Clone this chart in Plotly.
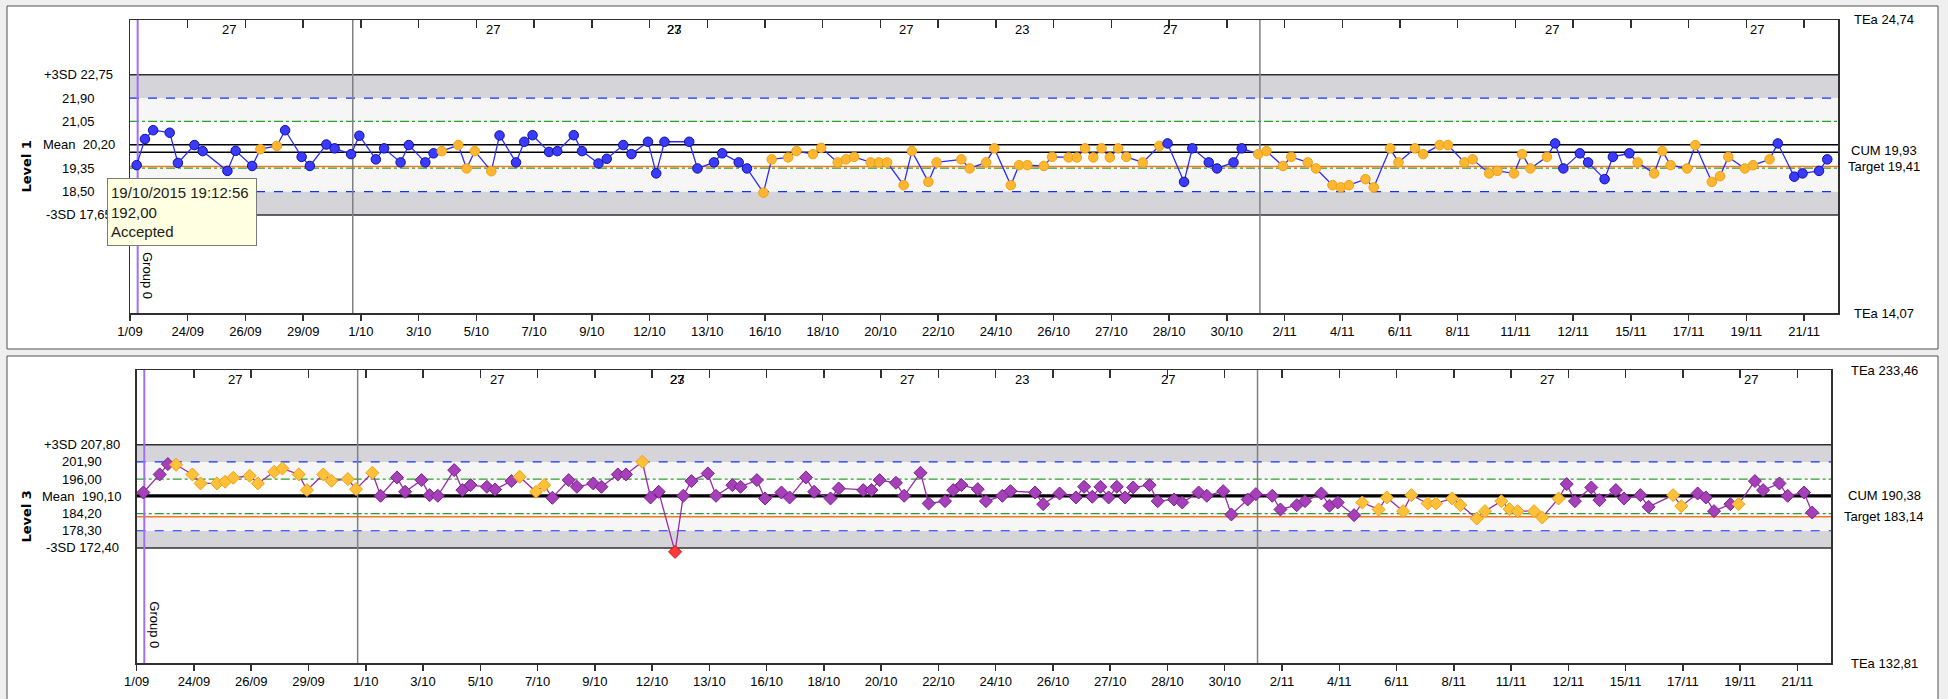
import plotly.graph_objects as go

W, H = 1948, 699
ML = 20  # left margin (keeps plotly from auto-pushing)

# ---------------- data ----------------
tick_labels = ["1/09", "24/09", "26/09", "29/09", "1/10", "3/10", "5/10", "7/10", "9/10", "12/10",
               "13/10", "16/10", "18/10", "20/10", "22/10", "24/10", "26/10", "27/10", "28/10", "30/10",
               "2/11", "4/11", "6/11", "8/11", "11/11", "12/11", "15/11", "17/11", "19/11", "21/11"]

# Level 1 (run index, value)
top_idx = [0, 1, 2, 4, 5, 7, 8, 11, 12, 14, 15, 17, 18, 20, 21, 23, 24, 26, 27, 29, 30, 32, 33, 35, 36,
           37, 39, 40, 41, 43, 44, 46, 47, 48, 50, 51, 53, 54, 56, 57, 59, 60, 62, 63, 64, 67, 68, 70, 71,
           73, 74, 76, 77, 79, 80, 82, 83, 85, 86, 87, 89, 90, 91, 93, 94, 96, 97, 100, 101, 103, 104,
           106, 107, 108, 110, 111, 113, 114, 115, 116, 117, 118, 119, 120, 122, 124, 125, 127, 128,
           130, 131, 133, 134, 136, 137, 139, 140, 142, 143, 145, 146, 147, 149, 150, 152, 153, 155,
           156, 158, 159, 161, 162, 164, 165, 167, 168, 169, 171, 172, 173, 175, 176, 178, 179, 181,
           182, 184, 185, 186, 188, 189, 191, 192, 193, 195, 196, 198, 199, 201, 202, 204, 205]
top_val = [19.46, 20.41, 20.73, 20.64, 19.54, 20.19, 19.97, 19.25, 19.98, 19.43, 20.04, 20.16, 20.73,
           19.76, 19.43, 20.21, 20.07, 19.86, 20.53, 19.67, 20.07, 19.56, 20.19, 19.56, 19.89,
           19.97, 20.19, 19.34, 19.97, 19.24, 20.54, 19.56, 20.31, 20.55, 19.94, 19.97, 20.55, 19.97,
           19.52, 19.69, 20.19, 19.86, 20.31, 19.16, 20.31, 20.31, 19.34, 19.56, 19.89, 19.56, 19.34,
           18.46, 19.67, 19.74, 19.97, 19.86, 20.09, 19.56, 19.67, 19.76, 19.56, 19.56, 19.56, 18.73,
           19.97, 18.85, 19.56, 19.67, 19.34, 19.56, 20.07, 18.73, 19.46, 19.46, 19.43, 19.76, 19.74,
           19.74, 20.07, 19.74, 20.07, 19.74, 20.07, 19.76, 19.56, 20.16, 20.25, 18.85, 20.07, 19.56,
           19.34, 19.56, 20.07, 19.86, 19.97, 19.43, 19.76, 19.56, 19.34, 18.73, 18.65, 18.73, 18.95,
           18.65, 20.07, 19.56, 20.07, 19.86, 20.19, 20.19, 19.56, 19.67, 19.16, 19.25, 19.16, 19.86,
           19.34, 19.76, 20.25, 19.34, 19.89, 19.56, 18.95, 19.76, 19.89, 19.56, 19.16, 19.97, 19.46,
           19.34, 20.19, 18.85, 19.06, 19.76, 19.34, 19.46, 19.67, 20.25, 19.04, 19.16, 19.25, 19.67]
# index ranges of Level 1 runs drawn in orange (warning)
top_warn_ranges = [(15, 17), (37, 43), (76, 124), (136, 171), (182, 198)]

# Level 3 (run index, value)
bot_idx = [0, 2, 3, 4, 6, 7, 9, 10, 11, 13, 14, 16, 17, 19, 20, 22, 23, 25, 26, 28, 29, 31, 32, 34, 35,
           36, 38, 39, 40, 42, 43, 45, 46, 48, 49, 50, 52, 53, 55, 56, 58, 59, 61, 62, 63, 65, 66, 67,
           69, 70, 72, 73, 75, 76, 78, 79, 81, 82, 84, 85, 88, 89, 90, 92, 93, 95, 96, 98, 99, 100,
           102, 103, 105, 106, 109, 110, 112, 114, 115, 116, 117, 118, 119, 120, 121, 123, 124, 126,
           127, 129, 130, 132, 133, 135, 136, 138, 139, 141, 142, 144, 145, 146, 148, 149, 151, 152,
           154, 155, 157, 158, 160, 161, 163, 164, 166, 167, 168, 170, 171, 173, 174, 175, 177, 178,
           180, 181, 183, 184, 187, 188, 190, 191, 192, 194, 195, 197, 198, 200, 201, 203, 204]
bot_val = [191.43, 197.62, 201.17, 200.94, 197.62, 194.53, 194.53, 195.10, 196.47, 197.16, 194.53,
           198.53, 199.68, 197.62, 192.24, 197.62, 195.44, 196.02, 192.58, 198.19, 190.29, 196.59,
           191.66, 195.67, 190.52, 190.29, 199.11, 192.24, 193.96, 193.38, 192.46, 195.33, 196.82,
           191.66, 193.96, 189.60, 195.67, 193.38, 194.53, 193.38, 197.62, 197.62, 201.97, 189.72,
           191.66, 171.05, 190.29, 195.33, 197.96, 190.29, 193.96, 193.38, 195.67, 189.38, 191.43,
           189.72, 196.59, 191.66, 189.38, 192.81, 192.24, 192.24, 195.67, 194.75, 190.29, 198.19,
           187.66, 188.46, 192.24, 193.96, 192.58, 188.46, 190.29, 191.89, 191.43, 187.43, 191.09,
           189.72, 193.38, 189.95, 193.38, 189.72, 193.38, 189.72, 193.15, 193.96, 188.46, 189.03,
           188.00, 191.43, 190.29, 191.89, 183.88, 189.03, 190.86, 190.29, 185.60, 187.08, 188.46,
           191.09, 186.90, 188.00, 183.65, 188.00, 185.60, 189.72, 185.02, 190.52, 187.66, 187.66,
           189.38, 187.08, 182.50, 185.02, 188.46, 185.71, 185.02, 185.02, 182.86, 189.38, 194.30,
           188.46, 193.15, 188.80, 192.24, 189.38, 190.52, 186.51, 190.52, 186.74, 191.09, 189.72,
           185.02, 187.43, 187.43, 195.33, 192.24, 194.53, 190.29, 191.43, 184.56]
bot_warn_ranges = [(4, 28), (46, 49), (61, 61), (149, 173), (187, 188), (195, 195)]
bot_reject = [65]

lot_pos = [11.2, 43.2, 65.2, 65.2, 93.3, 107.4, 125.3, 171.6, 196.5]
lot_txt = ["27", "27", "27", "23", "27", "23", "27", "27", "27"]

# control limits
L1 = dict(mean=20.20, sd=0.85, cum=19.93, target=19.41, tea_hi=24.74, tea_lo=14.07)
L3 = dict(mean=190.10, sd=5.90, cum=190.38, target=183.14, tea_hi=233.46, tea_lo=132.81)

month_breaks = [26.2, 136.2]
group_line = 0.12
XR = [-0.81, 206.3]
tickvals = [7 * k - 0.81 for k in range(len(tick_labels))]

FONT = "Liberation Sans, Arial, sans-serif"


def in_ranges(i, ranges):
    return any(a <= i <= b for a, b in ranges)


top_flag = ["O" if in_ranges(i, top_warn_ranges) else "B" for i in top_idx]
bot_flag = ["R" if i in bot_reject else ("O" if in_ranges(i, bot_warn_ranges) else "P") for i in bot_idx]

# ---------------- figure ----------------
fig = go.Figure()
PW = W - ML


def px_x(p):
    return (p - ML) / PW


def px_y(p):
    return 1 - p / H


top_dom_x = [px_x(130), px_x(1838)]
top_dom_y = [px_y(313.3), px_y(20)]
bot_dom_x = [px_x(136.7), px_x(1831)]
bot_dom_y = [px_y(663.3), px_y(370)]

shapes = []
annotations = []

# panel frames
for y0, y1 in [(349, 6), (712, 356)]:
    shapes.append(dict(type="rect", xref="paper", yref="paper", x0=px_x(7), x1=px_x(1938),
                       y0=px_y(y0), y1=px_y(y1), fillcolor="white",
                       line=dict(color="#505050", width=1), layer="below"))


def panel(xa, ya, L, data_x, data_y, flags, kind, label_cx):
    m, s = L["mean"], L["sd"]
    xd = xa + " domain"
    for lo, hi, col in [(m + 2 * s, m + 3 * s, "#d5d4d9"), (m - 3 * s, m - 2 * s, "#d5d4d9"),
                        (m + s, m + 2 * s, "#f6f6f6"), (m - 2 * s, m - s, "#f6f6f6")]:
        shapes.append(dict(type="rect", xref=xd, yref=ya, x0=0, x1=1, y0=lo, y1=hi,
                           fillcolor=col, line=dict(width=0), layer="below"))
    for v in (m + 3 * s, m - 3 * s):
        shapes.append(dict(type="line", xref=xd, yref=ya, x0=0, x1=1, y0=v, y1=v,
                           line=dict(color="#303030", width=1.5), layer="below"))
    for v in (m + 2 * s, m - 2 * s):
        shapes.append(dict(type="line", xref=xd, yref=ya, x0=0, x1=1, y0=v, y1=v,
                           line=dict(color="#1030ff", width=1.2, dash="dash"), layer="below"))
    for v in (m + s, m - s):
        shapes.append(dict(type="line", xref=xd, yref=ya, x0=0, x1=1, y0=v, y1=v,
                           line=dict(color="#30a030", width=1.2, dash="dashdot"), layer="below"))
    shapes.append(dict(type="line", xref=xd, yref=ya, x0=0, x1=1, y0=L["target"], y1=L["target"],
                       line=dict(color="#f07828", width=1.5), layer="below"))
    lw = 1.5 if abs(L["cum"] - m) > s * 0.2 else 2.4
    for v in (m, L["cum"]):
        shapes.append(dict(type="line", xref=xd, yref=ya, x0=0, x1=1, y0=v, y1=v,
                           line=dict(color="black", width=lw), layer="below"))
    for b in month_breaks:
        shapes.append(dict(type="line", xref=xa, yref=ya + " domain", x0=b, x1=b, y0=0, y1=1,
                           line=dict(color="#808080", width=1.5), layer="below"))
    shapes.append(dict(type="line", xref=xa, yref=ya + " domain", x0=group_line, x1=group_line,
                       y0=0, y1=1, line=dict(color="#a070f0", width=2), layer="below"))
    annotations.append(dict(xref=xa, yref=ya + " domain", x=group_line, y=0.13, xanchor="left",
                            yanchor="middle", xshift=1, text="Group 0", textangle=90, showarrow=False,
                            font=dict(family=FONT, size=13, color="black")))
    if kind == "circle":
        fill = {"B": "#3b3bff", "O": "#ffb631"}
        edge = {"B": "#1010a0", "O": "#f0a010"}
        line_col, size = "#2a2aff", 9.5
    else:
        fill = {"P": "#a640b8", "O": "#ffc13a", "R": "#ff3838"}
        edge = {"P": "#7a2090", "O": "#f0a010", "R": "#d01010"}
        line_col, size = "#9a2aa8", 10
    fig.add_trace(go.Scatter(
        x=data_x, y=data_y, xaxis=xa, yaxis=ya, mode="lines+markers",
        line=dict(color=line_col, width=1.3),
        marker=dict(symbol=kind, size=size, color=[fill[f] for f in flags],
                    line=dict(color=[edge[f] for f in flags], width=1)),
        showlegend=False, hoverinfo="skip"))
    fmt = lambda v: ("%.2f" % v).replace(".", ",")
    labs = [(m + 3 * s, "+3SD " + fmt(m + 3 * s)), (m + 2 * s, fmt(m + 2 * s)), (m + s, fmt(m + s)),
            (m, "Mean\u00a0 " + fmt(m)), (m - s, fmt(m - s)), (m - 2 * s, fmt(m - 2 * s)),
            (m - 3 * s, "-3SD " + fmt(m - 3 * s))]
    for v, t in labs:
        annotations.append(dict(xref="paper", yref=ya, x=px_x(label_cx), y=v, text=t,
                                showarrow=False, xanchor="center", yanchor="middle",
                                font=dict(family=FONT, size=13, color="black")))
    for v, t in [(L["tea_hi"], "TEa " + fmt(L["tea_hi"])), (L["cum"], "CUM " + fmt(L["cum"])),
                 (L["target"], "Target " + fmt(L["target"])), (L["tea_lo"], "TEa " + fmt(L["tea_lo"]))]:
        yshift = 2 if t.startswith("CUM") and abs(L["cum"] - L["target"]) < s else 0
        annotations.append(dict(xref="paper", yref=ya, x=px_x(1884), y=v, text=t, yshift=yshift,
                                showarrow=False, xanchor="center", yanchor="middle",
                                font=dict(family=FONT, size=13, color="black")))
    for p, t in zip(lot_pos, lot_txt):
        annotations.append(dict(xref=xa, yref=ya + " domain", x=p, y=0.966, text=t, showarrow=False,
                                xanchor="center", yanchor="middle",
                                font=dict(family=FONT, size=13, color="black")))


panel("x", "y", L1, top_idx, top_val, top_flag, "circle", 78.5)
panel("x2", "y2", L3, bot_idx, bot_val, bot_flag, "diamond", 82)

# invisible traces so that the top tick axes are drawn
fig.add_trace(go.Scatter(x=[0], y=[20], xaxis="x3", yaxis="y", mode="markers",
                         marker=dict(opacity=0), showlegend=False, hoverinfo="skip"))
fig.add_trace(go.Scatter(x=[0], y=[190], xaxis="x4", yaxis="y2", mode="markers",
                         marker=dict(opacity=0), showlegend=False, hoverinfo="skip"))

for yc, t in [(166.5, "Level 1"), (516.5, "Level 3")]:
    annotations.append(dict(xref="paper", yref="paper", x=px_x(26), y=px_y(yc), text="<b>%s</b>" % t,
                            xanchor="center", yanchor="middle", textangle=-90, showarrow=False,
                            font=dict(family="DejaVu Sans", size=13, color="black")))

# tooltip
annotations.append(dict(xref="paper", yref="paper", x=px_x(107), y=px_y(178), xanchor="left", yanchor="top",
                        text="19/10/2015 19:12:56<br>192,00<br>Accepted", align="left", valign="middle",
                        showarrow=False, width=142, height=60,
                        bgcolor="#ffffe1", bordercolor="#7a7a7a", borderwidth=1, borderpad=3,
                        font=dict(family=FONT, size=15, color="#202020")))


def xaxis_main(domain, anchor):
    return dict(domain=domain, anchor=anchor, range=XR, tickmode="array", tickvals=tickvals,
                ticktext=tick_labels, ticks="outside", ticklen=6, tickcolor="#303030", tickwidth=1.5,
                showline=True, linecolor="#303030", linewidth=1.5, mirror=True, showgrid=False,
                zeroline=False, tickfont=dict(family=FONT, size=13, color="black"))


def xaxis_top(overlay, anchor):
    return dict(overlaying=overlay, anchor=anchor, side="top", range=XR, tickmode="array",
                tickvals=tickvals, ticks="inside", ticklen=8, tickcolor="#303030", tickwidth=1.5,
                showticklabels=False, showline=False, showgrid=False, zeroline=False)


def yaxis(domain, anchor, rng):
    return dict(domain=domain, anchor=anchor, range=rng, showticklabels=False, ticks="",
                showline=True, linecolor="#303030", linewidth=1.5, mirror=True, showgrid=False,
                zeroline=False)


fig.update_layout(
    width=W, height=H, autosize=False,
    margin=dict(l=ML, r=0, t=0, b=0, pad=0),
    paper_bgcolor="#efefef", plot_bgcolor="white",
    xaxis=xaxis_main(top_dom_x, "y"),
    xaxis2=xaxis_main(bot_dom_x, "y2"),
    xaxis3=xaxis_top("x", "y"),
    xaxis4=xaxis_top("x2", "y2"),
    yaxis=yaxis(top_dom_y, "x", [L1["tea_lo"], L1["tea_hi"]]),
    yaxis2=yaxis(bot_dom_y, "x2", [L3["tea_lo"], L3["tea_hi"]]),
    shapes=shapes, annotations=annotations,
    showlegend=False,
)

fig.write_html("out.html", config=dict(displayModeBar=False, staticPlot=True),
               post_script="document.body.style.margin='0';document.body.style.background='#efefef';")
